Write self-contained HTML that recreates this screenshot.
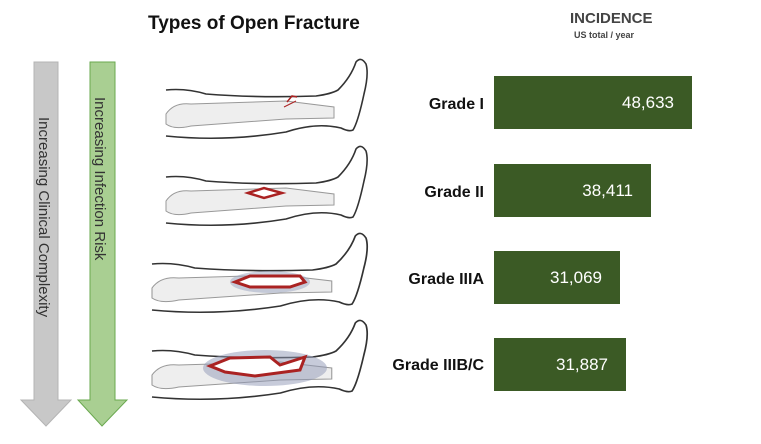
<!DOCTYPE html>
<html><head><meta charset="utf-8"><style>
body{margin:0;width:761px;height:444px;background:#fff;position:relative;overflow:hidden;font-family:"Liberation Sans",sans-serif}
.t{position:absolute;font-weight:bold;color:#111}
.bar{position:absolute;left:494px;height:53px;background:#3b5a25;color:#fff;font-size:17px;text-align:right;box-sizing:border-box;padding-right:18px;line-height:53px}
.g{position:absolute;font-weight:bold;font-size:16px;color:#111;text-align:right;width:140px;left:344px}
</style></head><body>
<div class="t" style="left:148px;top:13px;font-size:19px">Types of Open Fracture</div>
<div class="t" style="left:570px;top:10px;font-size:15px;color:#444">INCIDENCE</div>
<div class="t" style="left:574px;top:30px;font-size:9px;color:#444">US total / year</div>
<svg width="761" height="444" style="position:absolute;left:0;top:0">
<polygon points="34,62 58,62 58,400 71,400 46,426 21,400 34,400" fill="#c8c8c8" stroke="#b4b4b4"/>
<polygon points="90,62 115,62 115,400 127,400 102,426 78,400 90,400" fill="#a9cf92" stroke="#6aa84f"/>
<text transform="translate(39,117) rotate(90)" font-family="Liberation Sans" font-size="15" fill="#333">Increasing Clinical Complexity</text>
<text transform="translate(95,97) rotate(90)" font-family="Liberation Sans" font-size="15" fill="#333">Increasing Infection Risk</text>
<defs>
<g id="leg">
<path d="M0,62 Q8,50 25,52 L120,49 L168,55 L168,66 L120,67 L25,74 Q8,78 0,72Z" fill="#eee" stroke="#999" stroke-width="1"/>
<path d="M0,38 Q20,36 40,42 Q90,46 150,44 Q165,42 172,38 Q185,25 190,10 Q195,4 200,12 Q203,22 198,42 Q192,70 187,78 Q183,80 175,76 Q150,70 120,80 Q60,90 0,84" fill="none" stroke="#333" stroke-width="1.6"/>
</g>
</defs>
<use href="#leg" transform="translate(166,52)"/>
<use href="#leg" transform="translate(166,139)"/>
<use href="#leg" transform="translate(152,226) scale(1.07,1)"/>
<use href="#leg" transform="translate(152,313) scale(1.07,1)"/>
<path d="M287,102 L292,96 L297,97" stroke="#a22" stroke-width="1.5" fill="none"/>
<path d="M284,107 L296,101" stroke="#a22" stroke-width="1" fill="none"/>
<polygon points="248,193 264,188 282,193 264,198" fill="#fff" stroke="#a22" stroke-width="2.5"/>
<ellipse cx="270" cy="282" rx="40" ry="11" fill="#9aa3c0" opacity=".5"/>
<polygon points="235,282 250,276 300,276 305,282 290,287 250,287" fill="#fff" stroke="#a22" stroke-width="3"/>
<ellipse cx="265" cy="368" rx="62" ry="18" fill="#8f97b6" opacity=".5"/>
<polygon points="210,366 230,358 270,357 280,365 305,357 300,370 255,376 225,372" fill="#fff" stroke="#a22" stroke-width="3"/>
</svg>
<div class="g" style="top:96px">Grade I</div>
<div class="g" style="top:184px">Grade II</div>
<div class="g" style="top:271px">Grade IIIA</div>
<div class="g" style="top:357px">Grade IIIB/C</div>
<div class="bar" style="top:76px;width:198px">48,633</div>
<div class="bar" style="top:164px;width:157px">38,411</div>
<div class="bar" style="top:251px;width:126px">31,069</div>
<div class="bar" style="top:338px;width:132px">31,887</div>
</body></html>
